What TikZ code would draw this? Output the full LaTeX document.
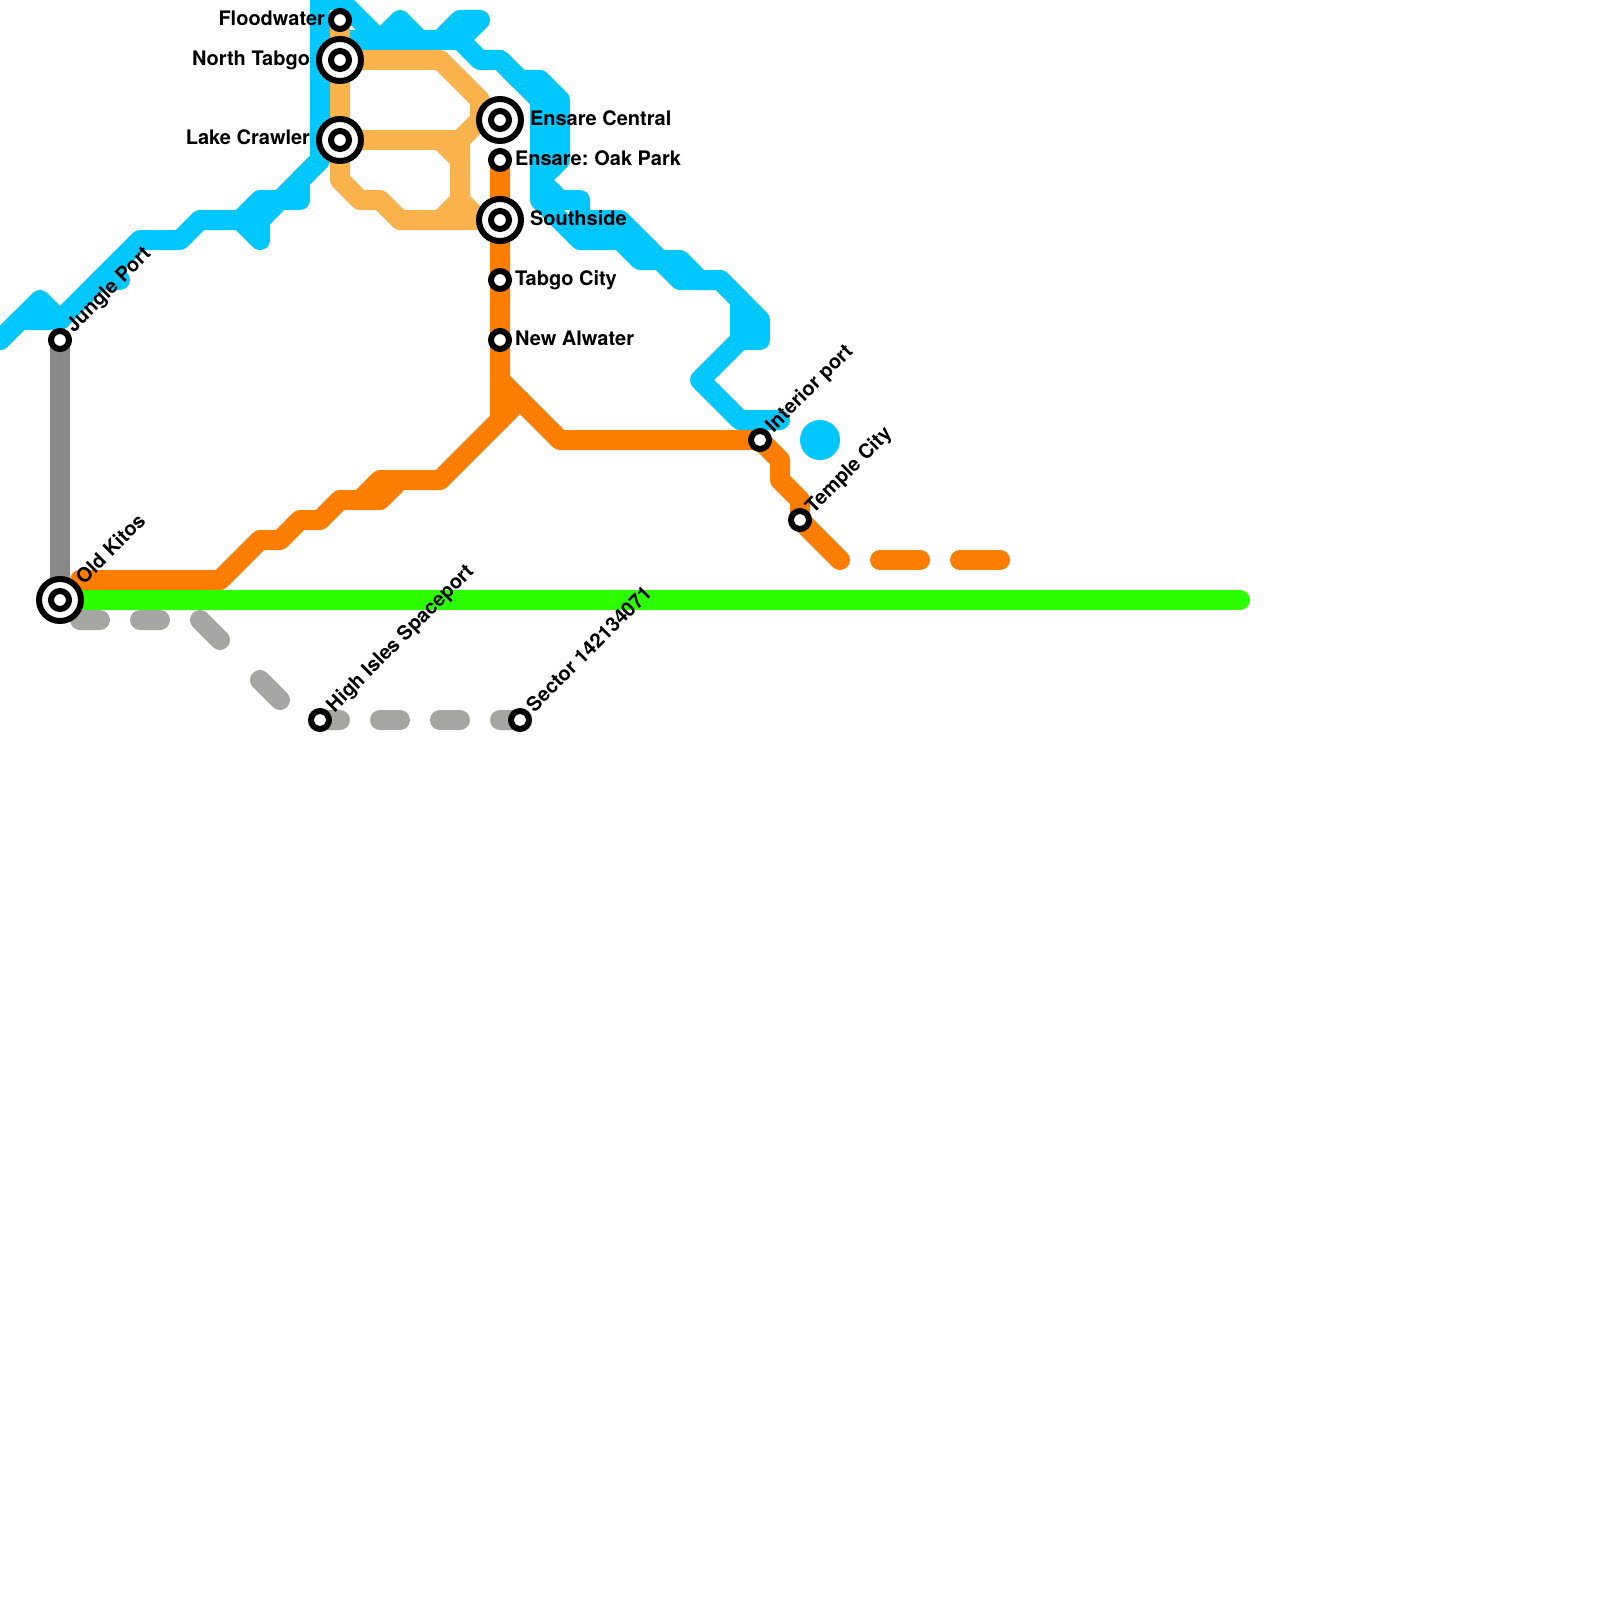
\documentclass[tikz,border=0pt]{standalone}
\usepackage{fontspec}
\setmainfont{TeX Gyre Heros}
\usetikzlibrary{backgrounds}
\definecolor{cblue}{HTML}{00C8FF}
\definecolor{corange}{HTML}{FF7E00}
\definecolor{clight}{HTML}{FAB24C}
\definecolor{cgreen}{HTML}{2BFF00}
\definecolor{cgray}{HTML}{888888}
\definecolor{clgray}{HTML}{A5A5A3}
\tikzset{
  route/.style={line width=20pt,line cap=round,line join=round},
  smallstop/.style={circle,draw=black,fill=white,line width=6pt,minimum size=18pt,inner sep=0pt,outer sep=0pt},
  bigstop/.style={circle,draw=black,fill=white,line width=6pt,minimum size=42pt,inner sep=0pt,outer sep=0pt,
    path picture={\draw[black,line width=6pt] (path picture bounding box.center) circle (9pt);}},
  lab/.style={font=\fontsize{20}{24}\selectfont\bfseries,inner sep=0pt,outer sep=0pt,text=black},
  labr/.style={lab,anchor=base east},
  labl/.style={lab,anchor=base west},
  labd/.style={lab,anchor=base west,rotate=45},
  dot/.style={circle,fill=cblue,minimum size=40pt,inner sep=0pt,outer sep=0pt},
}
\begin{document}
\begin{tikzpicture}[x=1pt,y=-1pt]
\useasboundingbox (0,0) rectangle (1600,1600);
% stations
\node[smallstop] (flood) at (340,20) {};
\node[bigstop] (ntabgo) at (340,60) {};
\node[bigstop] (lake) at (340,140) {};
\node[bigstop] (ensare) at (500,120) {};
\node[smallstop] (oak) at (500,160) {};
\node[bigstop] (south) at (500,220) {};
\node[smallstop] (tabgo) at (500,280) {};
\node[smallstop] (alwater) at (500,340) {};
\node[smallstop] (jungle) at (60,340) {};
\node[bigstop] (kitos) at (60,600) {};
\node[smallstop] (interior) at (760,440) {};
\node[smallstop] (temple) at (800,520) {};
\node[smallstop] (isles) at (320,720) {};
\node[smallstop] (sector) at (520,720) {};
\node[dot] (bluedot) at (820,440) {};
% free route ends
\coordinate (bw) at (0,340);
\coordinate (bt) at (320,0);
\coordinate (be) at (780,420);
\coordinate (ge) at (1240,600);
\begin{pgfonlayer}{background}
% blue
\draw[route,cblue] (bw) -- (40,300) -- (60,320) -- (140,240) -- (180,240) -- (200,220) -- (240,220) -- (260,240) -- (260,220) -- (280,200) -- (300,200) -- (300,180) -- (320,160) -- (bt) -- (340,0) -- (380,40) -- (400,20) -- (420,40) -- (440,40) -- (460,20) -- (480,20) -- (460,40) -- (480,60) -- (500,60) -- (520,80) -- (540,80) -- (560,100) -- (560,160) -- (540,180) -- (560,200) -- (580,200) -- (580,220) -- (620,220) -- (660,260) -- (680,260) -- (700,280) -- (720,280) -- (760,320) -- (760,340) -- (740,340);
\draw[route,cblue] (bw) -- (20,320) -- (60,320);
\draw[route,cblue] (100,280) -- (120,280);
\draw[route,cblue] (240,220) -- (260,200) -- (280,200) -- (320,160);
\draw[route,cblue] (320,40) -- (460,40);
\draw[route,cblue] (500,60) -- (540,100) -- (540,200) -- (580,240) -- (620,240) -- (640,260) -- (660,260) -- (680,280) -- (720,280) -- (740,300) -- (740,340) -- (700,380) -- (740,420) -- (be);
% gray
\draw[route,cgray] (jungle.center) -- (kitos.center);
\draw[route,clgray] (80,620) -- (100,620) (140,620) -- (160,620) (200,620) -- (220,640) (260,680) -- (280,700) (isles.center) -- (340,720) (380,720) -- (400,720) (440,720) -- (460,720) (500,720) -- (sector.center);
% light orange
\draw[route,clight] (flood.center) -- (340,180) -- (360,200) -- (380,200) -- (400,220) -- (south.center);
\draw[route,clight] (ntabgo.center) -- (440,60) -- (480,100) -- (480,120) -- (460,140) -- (460,200) -- (480,220) -- (south.center);
\draw[route,clight] (480,120) -- (ensare.center);
\draw[route,clight] (lake.center) -- (460,140);
\draw[route,clight] (440,140) -- (460,160) -- (460,200) -- (440,220);
% orange
\draw[route,corange] (oak.center) -- (500,380) -- (560,440) -- (interior.center) -- (780,460) -- (780,480) -- (800,500) -- (temple.center) -- (840,560);
\draw[route,corange] (500,380) -- (500,420);
\draw[route,corange] (kitos.center) ++(20,-20) -- (220,580) -- (260,540) -- (280,540) -- (300,520) -- (320,520) -- (340,500) -- (380,500) -- (400,480) -- (440,480) -- (520,400);
\draw[route,corange] (360,500) -- (380,480) -- (400,480);
\draw[route,corange] (880,560) -- (920,560) (960,560) -- (1000,560);
% green
\draw[route,cgreen] (kitos.center) -- (ge);
\end{pgfonlayer}
% labels
\node[labr] (lflood) at (325,25.5) {Floodwater};
\node[labr] (lnt) at (310,65.5) {North Tabgo};
\node[labr] (llake) at (310,145) {Lake Crawler};
\node[labl] (lens) at (530,125) {Ensare Central};
\node[labl] (loak) at (515,165) {Ensare:\kern-1.5pt{} Oak Park};
\node[labl] (lsouth) at (530,225) {Southside};
\node[labl] (ltabgo) at (515,285) {Tabgo City};
\node[labl] (lalw) at (515,345) {New Alwater};
\node[labd] (ljungle) at (74,333) {Jungle Port};
\node[labd] (lkitos) at (84,585) {Old Kitos};
\node[labd] (lint) at (773.5,433) {Interior port};
\node[labd] (ltemple) at (813.5,514) {Temple City};
\node[labd] (lisles) at (334.5,713) {High Isles Spaceport};
\node[labd] (lsector) at (534.5,713) {Sector 142134071};
\end{tikzpicture}
\end{document}
